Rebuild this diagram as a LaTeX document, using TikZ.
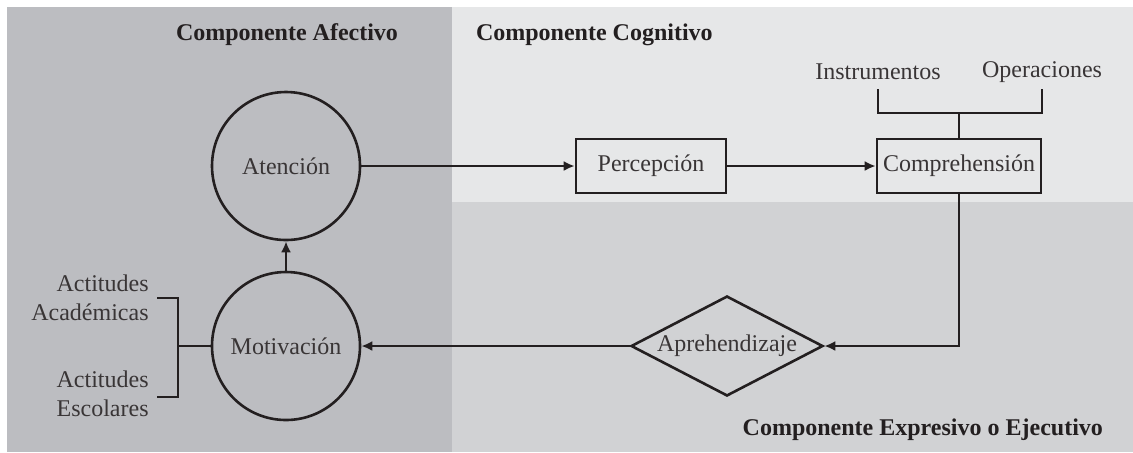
\documentclass[tikz,border=0pt]{standalone}
\usepackage{xcolor}
\usepackage{fontspec}
\setmainfont{Liberation Serif}
\usepackage{tikz}
\usetikzlibrary{shapes.geometric}
\usetikzlibrary{arrows.meta}

\definecolor{ink}{HTML}{231F20}
\definecolor{afectivo}{HTML}{BCBDC1}
\definecolor{cognitivo}{HTML}{E6E7E8}
\definecolor{expresivo}{HTML}{D1D2D4}

\tikzset{
	etapa/.style={circle,draw=ink,line width=1.3pt,minimum size=74pt,inner sep=0pt},
	caja/.style={rectangle,draw=ink,line width=1.3pt,minimum height=27pt,inner sep=0pt},
	rombo/.style={diamond,draw=ink,line width=1.3pt,aspect=2,minimum width=96pt,minimum height=50pt,inner sep=0pt},
	titulo/.style={font=\fontsize{12}{14}\selectfont\bfseries,text=ink},
	rotulo/.style={font=\fontsize{12}{14.5}\selectfont,text=ink!90,inner sep=0pt},
	enlace/.style={draw=ink,line width=1.3pt}
}

\begin{document}
\begin{tikzpicture}[>={Latex[length=5.5pt,width=5pt]},x=0.5pt,y=-0.5pt]
		\useasboundingbox (0,0) rectangle (1133,452);
		% Fondos
		\fill[afectivo] (7,7) rectangle (452,452);
		\fill[cognitivo] (452,7) rectangle (1133,202);
		\fill[expresivo] (452,202) rectangle (1133,452);

		% Componente Afectivo
		\node at (287,35) (tafe) [titulo] {Componente Afectivo};
		\node at (286,166) (atencion) [etapa,rotulo] {Atención};
		\node at (286,346) (motivacion) [etapa,rotulo] {Motivación};
		\node[anchor=east] at (149,298) (academicas) [rotulo,align=right] {Actitudes\\Académicas};
		\node[anchor=east] at (149,394) (escolares) [rotulo,align=right] {Actitudes\\Escolares};
		\coordinate (aca) at (157,298);
		\coordinate (esc) at (157,397);
		\coordinate (actitudes) at (178,346);

		% Componente Cognitivo
		\node[anchor=west] at (469,35) (tcog) [titulo] {Componente Cognitivo};
		\node at (651,166) (percepcion) [caja,rotulo,minimum width=75pt] {Percepción};
		\node at (959,166) (comprension) [caja,rotulo,minimum width=82pt] {Comprehensión};
		\node at (878,72) (instrumentos) [rotulo] {Instrumentos};
		\node at (1042,72) (operaciones) [rotulo] {Operaciones};
		\coordinate (ins) at (878,89);
		\coordinate (ope) at (1042,89);
		\coordinate (compjoin) at (959,113);

		% Componente Expresivo
		\node[anchor=east] at (1110,430) (texp) [titulo] {Componente Expresivo o Ejecutivo};
		\node at (727,346) (aprehendizaje) [rombo,rotulo] {Aprehendizaje};

		% Conexiones
		\draw[enlace,->] (atencion) -- (percepcion);
		\draw[enlace,->] (percepcion) -- (comprension);
		\draw[enlace,->] (comprension.south) |- (aprehendizaje.east);
		\draw[enlace,->] (aprehendizaje) -- (motivacion);
		\draw[enlace,->] (motivacion) -- (atencion);
		\draw[enlace] (ins) |- (compjoin) -| (ope);
		\draw[enlace] (compjoin) -- (comprension);
		\draw[enlace] (aca) -| (actitudes) |- (esc);
		\draw[enlace] (actitudes) -- (motivacion);
	\end{tikzpicture}
\end{document}
